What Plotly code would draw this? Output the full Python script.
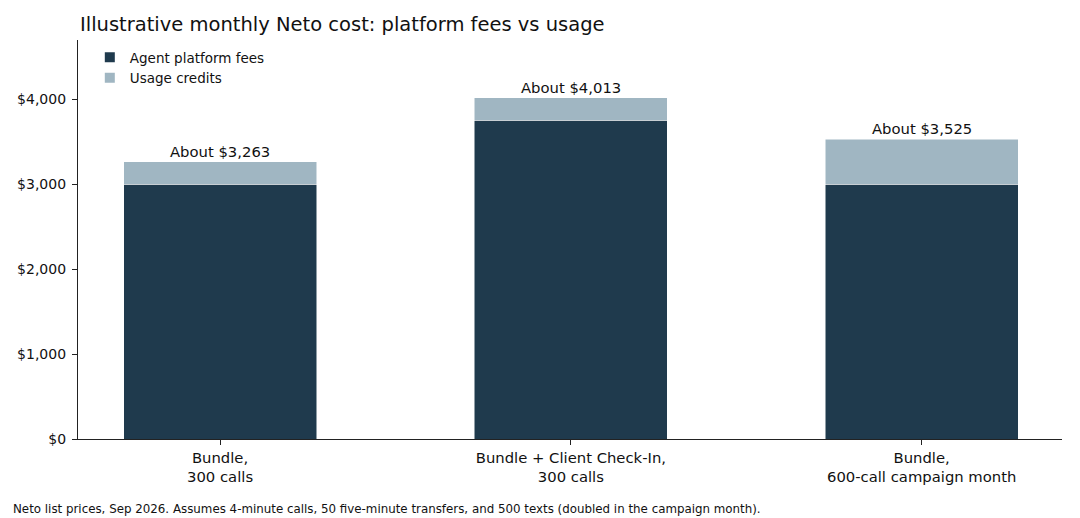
import plotly.graph_objects as go

categories = ["Bundle,<br>300 calls", "Bundle + Client Check-In,<br>300 calls", "Bundle,<br>600-call campaign month"]
platform_fees = [3000, 3750, 3000]
usage_credits = [263, 263, 525]
total_labels = ["About $3,263", "About $4,013", "About $3,525"]
y_ticks = [0, 1000, 2000, 3000, 4000]
y_tick_labels = ["$0", "$1,000", "$2,000", "$3,000", "$4,000"]

DARK = "#1f3a4d"
LIGHT = "#a0b6c2"
FONT = "DejaVu Sans"

W, H = 1072, 510
L, R, T, B = 70, 18, 32, 79
PW, PH = W - L - R, H - T - B

fig = go.Figure()
fig.add_trace(go.Bar(x=categories, y=platform_fees, name="Agent platform fees",
                     marker=dict(color=DARK, line=dict(color="white", width=0.5)), width=0.55))
fig.add_trace(go.Bar(x=categories, y=usage_credits, name="Usage credits",
                     marker=dict(color=LIGHT, line=dict(color="white", width=0.5)), width=0.55))

totals = [a + b for a, b in zip(platform_fees, usage_credits)]
for c, t, lab in zip(categories, totals, total_labels):
    fig.add_annotation(x=c, y=t, text=lab, showarrow=False, yanchor="bottom", yshift=0,
                       font=dict(family=FONT, size=14.8, color="#111"))

fig.add_annotation(xref="paper", yref="paper", x=-67/PW, y=-70/PH, xanchor="left", yanchor="middle",
                   text="Neto list prices, Sep 2026. Assumes 4-minute calls, 50 five-minute transfers, and 500 texts (doubled in the campaign month).",
                   showarrow=False, font=dict(family=FONT, size=11.85, color="#111"))

fig.update_layout(
    barmode="stack",
    width=W, height=H,
    margin=dict(l=L, r=R, t=T, b=B),
    paper_bgcolor="white", plot_bgcolor="white",
    font=dict(family=FONT, size=13.5, color="#111"),
    title=dict(text="Illustrative monthly Neto cost: platform fees vs usage", x=72/W, xanchor="left",
               y=1-16/H, yanchor="middle", font=dict(family=FONT, size=19.5, color="#111")),
    legend=dict(x=0.012, y=0.995, xanchor="left", yanchor="top", bgcolor="rgba(0,0,0,0)",
                traceorder="normal", font=dict(family=FONT, size=13.5), tracegroupgap=0,
                itemsizing="constant"),
    bargap=0.45,
)
fig.update_xaxes(range=[-0.405, 2.4], showline=True, linecolor="#222", linewidth=1.2,
                 ticks="outside", ticklen=5, tickcolor="#222", showgrid=False, automargin=False,
                 tickfont=dict(family=FONT, size=14.8, color="#111"))
fig.update_yaxes(range=[0, 4695], tickvals=y_ticks, ticktext=y_tick_labels, showline=True,
                 linecolor="#222", linewidth=1.2, ticks="outside", ticklen=5, tickcolor="#222",
                 showgrid=False, zeroline=False, automargin=False, ticklabelstandoff=3,
                 tickfont=dict(family=FONT, size=14, color="#111"))

fig.write_html("out.html")
